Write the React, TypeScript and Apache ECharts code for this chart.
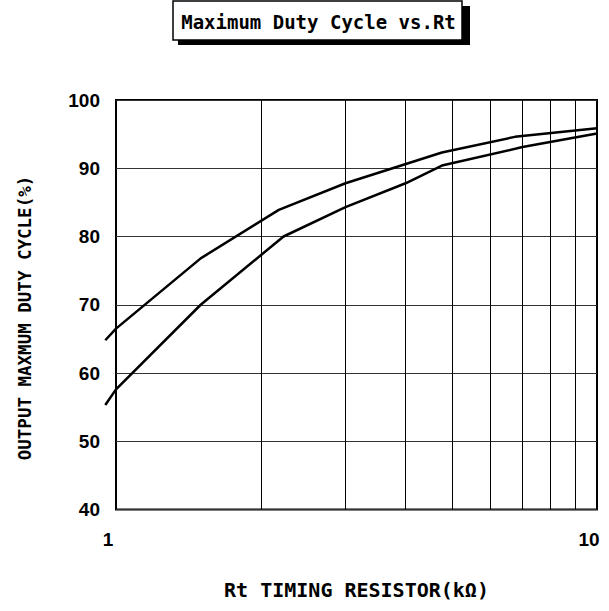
import React, { useEffect, useRef } from "react";
import * as echarts from "echarts";

const titleText = "Maximum Duty Cycle vs.Rt";
const xAxisName = "Rt TIMING RESISTOR(kΩ)";
const yAxisName = "OUTPUT MAXMUM DUTY CYCLE(%)";

// Upper curve (Rt kΩ, duty %)
const upperRt = [0.95, 1, 1.5, 2.18, 3, 4.76, 6.75, 10];
const upperDuty = [64.8, 66.5, 76.8, 83.9, 87.8, 92.3, 94.6, 95.85];

// Lower curve
const lowerRt = [0.95, 1, 1.5, 2.23, 3, 4, 4.76, 7, 10];
const lowerDuty = [55.3, 57.6, 70, 80, 84.3, 87.8, 90.4, 93.1, 95.1];

// Log-axis minor grid positions
const minorGrid = [2, 3, 4, 5, 6, 7, 8, 9];

const yMin = 40;
const yMax = 100;
const yStep = 10;
const xMin = 1;
const xMax = 10;
// curves start slightly left of the frame in the original
const curveStart = 0.95;

const PLOT_LEFT = 116;
const PLOT_RIGHT = 12;
const PLOT_TOP = 100;
const PLOT_BOTTOM = 101.5;
const PLOT_W = 609 - PLOT_LEFT - PLOT_RIGHT;

export default function App() {
  const ref = useRef<HTMLDivElement>(null);

  useEffect(() => {
    if (!ref.current) return;
    const chart = echarts.init(ref.current, null, { renderer: "svg" });
    const pairs = (xs: number[], ys: number[]) => xs.map((x, i) => [x, ys[i]]);
    const lineStyle = { color: "#000", width: 2.5 };

    // second (hidden) grid whose log axis starts at curveStart, aligned so
    // that x = 1 falls on the visible frame's left edge
    const decades = Math.log10(xMax) - Math.log10(xMin);
    const extra = (PLOT_W * (Math.log10(xMin) - Math.log10(curveStart))) / decades;

    const labelFont = {
      color: "#000",
      fontFamily: "Liberation Sans",
      fontWeight: "bold",
      fontSize: 19,
    };

    chart.setOption({
      animation: false,
      backgroundColor: "#fff",
      grid: [
        {
          left: PLOT_LEFT,
          top: PLOT_TOP,
          right: PLOT_RIGHT,
          bottom: PLOT_BOTTOM,
          show: true,
          borderColor: "#000",
          borderWidth: 2,
          backgroundColor: "transparent",
        },
        {
          left: PLOT_LEFT - extra,
          top: PLOT_TOP,
          right: PLOT_RIGHT,
          bottom: PLOT_BOTTOM,
          show: false,
        },
      ],
      xAxis: [
        {
          gridIndex: 0,
          type: "log",
          logBase: 10,
          min: xMin,
          max: xMax,
          name: xAxisName,
          nameLocation: "middle",
          nameGap: 70,
          nameTextStyle: {
            fontFamily: "DejaVu Sans Mono",
            fontWeight: "bold",
            fontSize: 20,
            color: "#000",
          },
          axisLine: { show: false },
          axisTick: { show: false },
          splitLine: { show: false },
          minorTick: { show: false },
          axisLabel: { ...labelFont, margin: 20, padding: [0, 16, 0, 0] },
        },
        {
          gridIndex: 1,
          type: "log",
          logBase: 10,
          min: curveStart,
          max: xMax,
          show: false,
          splitLine: { show: false },
        },
      ],
      yAxis: [
        {
          gridIndex: 0,
          type: "value",
          min: yMin,
          max: yMax,
          interval: yStep,
          axisLine: { show: false },
          axisTick: { show: false },
          splitLine: { show: true, lineStyle: { color: "#333", width: 1 } },
          axisLabel: { ...labelFont, margin: 16 },
        },
        {
          gridIndex: 1,
          type: "value",
          min: yMin,
          max: yMax,
          interval: yStep,
          show: false,
          splitLine: { show: false },
        },
      ],
      graphic: [
        {
          type: "rect",
          shape: { x: 178, y: 6, width: 292, height: 39 },
          style: { fill: "#000" },
          silent: true,
        },
        {
          type: "rect",
          shape: { x: 173, y: 1, width: 289, height: 39 },
          style: { fill: "#fff", stroke: "#000", lineWidth: 1.5 },
          silent: true,
        },
        {
          type: "text",
          x: 318.5,
          y: 21.5,
          style: {
            text: titleText,
            fill: "#000",
            font: "bold 19px 'DejaVu Sans Mono'",
            align: "center",
            verticalAlign: "middle",
          },
          silent: true,
        },
        {
          type: "text",
          x: 25,
          y: 318,
          rotation: Math.PI / 2,
          style: {
            text: yAxisName,
            fill: "#000",
            font: "bold 17.5px 'DejaVu Sans Mono'",
            align: "center",
            verticalAlign: "middle",
          },
          silent: true,
        },
      ],
      series: [
        {
          type: "line",
          xAxisIndex: 0,
          yAxisIndex: 0,
          data: [],
          markLine: {
            silent: true,
            symbol: ["none", "none"],
            label: { show: false },
            lineStyle: { color: "#000", width: 1, type: "solid" },
            data: minorGrid.map((v) => ({ xAxis: v })),
          },
        },
        {
          type: "line",
          xAxisIndex: 1,
          yAxisIndex: 1,
          data: pairs(upperRt, upperDuty),
          showSymbol: false,
          symbol: "none",
          clip: false,
          lineStyle,
        },
        {
          type: "line",
          xAxisIndex: 1,
          yAxisIndex: 1,
          data: pairs(lowerRt, lowerDuty),
          showSymbol: false,
          symbol: "none",
          clip: false,
          lineStyle,
        },
      ],
    });

    return () => chart.dispose();
  }, []);

  return (
    <div
      ref={ref}
      style={{ position: "absolute", left: 0, top: 0, width: 609, height: 611 }}
    />
  );
}
